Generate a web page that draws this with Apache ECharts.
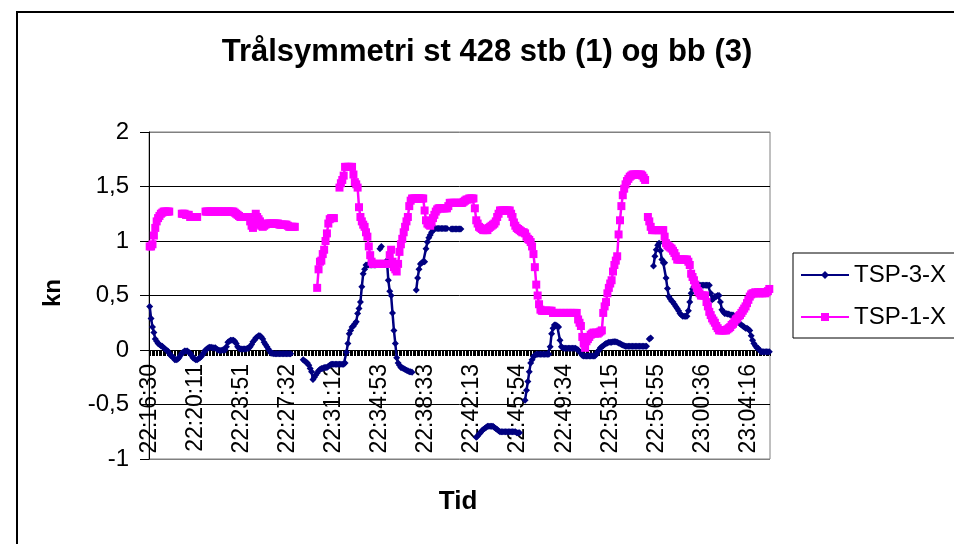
<!DOCTYPE html>
<html>
<head>
<meta charset="utf-8">
<script src="https://cdn.jsdelivr.net/npm/echarts@6/dist/echarts.min.js"></script>
<style>html,body{margin:0;padding:0;background:#fff;}#c{width:954px;height:544px;}</style>
</head>
<body>
<div id="c"></div>
<script>
// Tick labels shown every 33 samples
const tickLabels = ['22:16:30','22:20:11','22:23:51','22:27:32','22:31:12','22:34:53','22:38:33','22:42:13','22:45:54','22:49:34','22:53:15','22:56:55','23:00:36','23:04:16'];
const labelEvery = 33;
const yTicks = [-1, -0.5, 0, 0.5, 1, 1.5, 2];
const seriesNames = ['TSP-3-X', 'TSP-1-X'];

const tsp3 = [
0.40,0.29,0.21,0.16,0.10,0.08,0.06,0.05,0.04,0.035,
0.02,0.01,0.00,-0.01,-0.03,-0.05,-0.06,-0.07,-0.09,-0.09,
-0.085,-0.07,-0.05,-0.03,-0.02,-0.01,-0.01,-0.01,-0.02,-0.03,
-0.05,-0.07,-0.08,-0.09,-0.09,-0.08,-0.07,-0.06,-0.04,-0.02,
0.00,0.01,0.02,0.025,0.025,0.02,0.02,0.02,0.01,0.00,
-0.005,-0.005,0.00,0.00,0.00,0.03,0.07,0.08,0.09,0.09,
0.09,0.08,0.06,0.03,0.015,0.01,0.01,0.01,0.01,0.01,
0.015,0.015,0.03,0.05,0.075,0.09,0.11,0.12,0.13,0.13,
0.12,0.10,0.07,0.05,0.03,0.01,-0.01,-0.03,-0.03,-0.035,
-0.035,-0.035,-0.035,-0.035,-0.035,-0.035,-0.035,-0.035,-0.035,-0.035,
-0.035,-0.035,null,null,null,null,null,null,null,null,
-0.09,-0.10,-0.11,-0.12,-0.14,-0.17,-0.20,-0.27,-0.25,-0.23,
-0.21,-0.19,-0.18,-0.17,-0.17,-0.16,-0.16,-0.16,-0.15,-0.14,
-0.13,-0.13,-0.13,-0.13,-0.13,-0.13,-0.13,-0.13,-0.13,-0.13,
-0.12,-0.02,0.06,0.15,0.18,0.21,0.22,0.24,0.26,0.335,
0.38,0.44,0.58,0.70,0.74,0.78,0.78,0.78,0.78,0.78,
0.78,0.78,0.78,null,null,0.93,0.95,null,null,null,
0.82,0.64,0.54,0.50,0.34,0.18,0.06,-0.07,-0.12,-0.14,
-0.16,-0.165,-0.17,-0.18,-0.185,-0.19,-0.20,-0.20,-0.205,null,
null,0.55,0.66,0.74,0.79,0.80,0.81,0.81,0.93,0.99,
1.03,1.055,1.08,1.10,1.11,1.115,1.115,1.115,1.115,1.115,
1.115,1.115,1.115,1.115,null,null,1.11,1.11,1.11,1.11,
1.11,1.11,1.11,1.11,null,null,null,null,null,null,
null,null,null,null,-0.80,-0.79,-0.77,-0.76,-0.74,-0.73,
-0.72,-0.71,-0.70,-0.70,-0.70,-0.70,-0.70,-0.71,-0.72,-0.73,
-0.74,-0.75,-0.75,-0.75,-0.75,-0.75,-0.75,-0.75,-0.75,-0.75,
-0.75,-0.75,-0.75,-0.76,-0.76,-0.76,null,null,null,-0.46,
-0.37,-0.29,-0.20,-0.12,-0.09,-0.06,-0.05,-0.04,-0.04,-0.04,
-0.04,-0.04,-0.04,-0.04,-0.04,-0.04,-0.04,0.03,0.15,0.20,
0.23,0.23,0.22,0.21,0.09,0.03,0.02,0.015,0.015,0.015,
0.015,0.015,0.015,0.015,0.015,0.015,0.01,0.00,-0.015,-0.03,
-0.05,-0.055,-0.055,-0.055,-0.055,-0.055,-0.055,-0.055,-0.055,-0.055,
-0.04,-0.015,0.00,0.02,0.03,0.04,0.05,0.06,0.065,0.07,
0.07,0.07,0.075,0.075,0.075,0.07,0.065,0.06,0.05,0.045,
0.04,0.035,0.035,0.035,0.035,0.035,0.035,0.035,0.035,0.035,
0.035,0.035,0.035,0.035,0.035,0.035,0.035,null,0.10,0.11,
null,0.77,0.86,0.92,0.96,0.98,0.91,0.83,0.80,0.80,
0.66,0.565,0.49,0.47,0.45,0.44,0.42,0.40,0.38,0.36,
0.335,0.32,0.31,0.31,0.31,0.31,0.36,0.44,0.52,0.56,
0.58,0.59,0.595,0.595,0.595,0.595,0.595,0.595,0.595,0.595,
0.595,0.595,0.52,0.46,0.47,0.49,0.49,0.50,0.50,0.44,
0.37,0.35,0.335,0.335,0.33,0.33,0.32,0.32,0.32,0.30,
0.28,0.26,0.25,0.24,0.23,0.22,0.21,0.20,0.20,0.19,
0.18,0.13,0.09,0.06,0.04,0.02,0.015,0.00,-0.015,-0.015,
-0.015,-0.015,-0.015,-0.015,-0.015
];

const tsp1 = [
0.95,0.95,0.97,1.05,1.12,1.18,1.21,1.23,1.25,1.26,
1.27,1.27,1.27,1.27,1.27,null,null,null,null,null,
null,null,null,1.25,1.25,1.25,1.24,1.24,1.24,1.22,
1.22,1.22,1.22,1.22,1.22,null,null,null,null,null,
1.27,1.27,1.27,1.27,1.27,1.27,1.27,1.27,1.27,1.27,
1.27,1.27,1.27,1.27,1.27,1.27,1.27,1.27,1.27,1.27,
1.27,1.26,1.25,1.24,1.23,1.22,1.22,1.22,1.22,1.22,
1.22,1.22,1.18,1.14,1.12,1.15,1.25,1.22,1.20,1.18,
1.14,1.13,1.14,1.15,1.16,1.16,1.16,1.16,1.16,1.16,
1.16,1.16,1.16,1.15,1.15,1.15,1.15,1.15,1.15,1.14,
1.13,1.13,1.13,1.13,1.13,null,null,null,null,null,
null,null,null,null,null,null,null,null,null,null,
0.57,0.74,0.81,0.82,0.88,0.92,1.00,1.07,1.16,1.20,
1.21,1.21,1.21,null,null,null,1.49,1.53,1.56,1.60,
1.68,1.68,1.68,1.68,1.68,1.68,1.61,1.54,1.52,1.49,
1.31,1.22,1.18,1.15,1.13,1.08,1.04,0.95,0.87,0.81,
0.79,0.79,0.79,0.79,0.79,0.79,0.79,0.79,0.79,0.79,
0.79,0.79,0.87,0.92,0.81,0.76,0.74,0.72,0.79,0.90,
0.97,1.02,1.08,1.13,1.18,1.22,1.32,1.37,1.39,1.39,
1.39,1.39,1.39,1.39,1.39,1.39,1.39,1.28,1.19,1.16,
1.15,1.14,1.17,1.21,1.24,1.27,1.29,1.30,1.30,1.30,
1.30,1.30,1.30,1.30,1.32,1.35,1.35,1.35,1.35,1.35,
1.35,1.35,1.35,1.35,1.35,1.36,1.37,1.38,1.38,1.39,
1.39,1.39,1.39,1.30,1.19,1.16,1.13,1.12,1.11,1.10,
1.10,1.10,1.10,1.12,1.13,1.14,1.15,1.16,1.18,1.22,
1.25,1.28,1.28,1.28,1.28,1.28,1.28,1.28,1.28,1.25,
1.22,1.17,1.14,1.12,1.11,1.10,1.09,1.08,1.08,1.07,
1.04,1.02,1.01,0.99,0.95,0.88,0.76,0.60,0.50,0.42,
0.37,0.36,0.36,0.36,0.36,0.36,0.36,0.36,0.36,0.34,
0.34,0.34,0.34,0.34,0.34,0.34,0.34,0.34,0.34,0.34,
0.34,0.34,0.34,0.34,0.34,0.34,0.34,0.28,0.25,0.22,
0.12,0.06,0.02,0.08,0.10,0.12,0.14,0.15,0.16,0.15,
0.16,0.15,0.16,0.17,0.18,0.34,0.40,0.44,0.52,0.57,
0.61,0.64,0.72,0.78,0.82,0.86,1.06,1.19,1.32,1.42,
1.48,1.52,1.55,1.57,1.59,1.60,1.61,1.61,1.61,1.61,
1.61,1.61,1.61,1.60,1.58,1.56,null,1.22,1.18,1.13,
1.10,1.10,1.10,1.10,1.10,1.10,1.10,1.10,1.10,1.04,
0.98,0.96,0.95,0.94,0.93,0.91,0.89,0.86,0.83,0.83,
0.83,0.83,0.83,0.83,0.83,0.83,0.81,0.78,0.70,0.67,
0.64,0.60,0.57,0.54,0.52,0.50,0.50,0.50,0.50,0.44,
0.40,0.35,0.32,0.29,0.27,0.25,0.22,0.20,0.18,0.18,
0.18,0.18,0.18,0.18,0.19,0.20,0.21,0.23,0.24,0.26,
0.28,0.29,0.31,0.32,0.34,0.36,0.38,0.40,0.43,0.46,
0.49,0.51,0.52,0.52,0.53,0.52,0.53,0.52,0.53,0.52,
0.53,0.52,0.53,0.54,0.56
];

const categories = tsp3.map((_, i) => (i % labelEvery === 0 && tickLabels[i / labelEvery]) ? tickLabels[i / labelEvery] : '');

const FONT = "'Liberation Sans', Arial, Helvetica, sans-serif";
const GRID = {left: 149, right: 184, top: 132, bottom: 85};
const plotH = 544 - GRID.top - GRID.bottom;
// offset the category axis so it sits on the zero line (value axis spans -1..2)
const zeroOffset = -plotH * (0 - yTicks[0]) / (yTicks[yTicks.length - 1] - yTicks[0]);

const chart = echarts.init(document.getElementById('c'), null, {renderer: 'canvas'});
chart.setOption({
  animation: false,
  backgroundColor: '#fff',
  textStyle: {fontFamily: FONT, color: '#000'},
  grid: Object.assign({show: true, borderColor: '#808080', borderWidth: 1, backgroundColor: 'transparent', containLabel: false, outerBoundsMode: 'none'}, GRID),
  legend: {
    orient: 'vertical', left: 793, top: 253,
    data: seriesNames,
    borderColor: '#000', borderWidth: 1,
    padding: [10, 30, 9, 7],
    itemWidth: 48, itemHeight: 10, itemGap: 18,
    textStyle: {fontSize: 24, color: '#000', fontFamily: FONT}
  },
  graphic: [
    {type: 'rect', shape: {x: 17, y: 12, width: 1000, height: 600}, style: {fill: 'none', stroke: '#000', lineWidth: 2}, silent: true},
    {type: 'text', x: 487, y: 52, style: {text: 'Trålsymmetri st 428 stb (1) og bb (3)', font: 'bold 31px ' + FONT, fill: '#000', textAlign: 'center', textVerticalAlign: 'middle'}},
    {type: 'text', x: 458, y: 502, style: {text: 'Tid', font: 'bold 26px ' + FONT, fill: '#000', textAlign: 'center', textVerticalAlign: 'middle'}},
    {type: 'text', x: 53, y: 293, rotation: Math.PI / 2, style: {text: 'kn', font: 'bold 24px ' + FONT, fill: '#000', textAlign: 'center', textVerticalAlign: 'middle'}}
  ],
  xAxis: {
    type: 'category', data: categories, boundaryGap: true, position: 'bottom', offset: zeroOffset,
    axisLine: {onZero: false, lineStyle: {color: '#000', width: 1}},
    axisTick: {show: true, interval: 0, length: 6, lineStyle: {color: '#000', width: 1}},
    axisLabel: {interval: labelEvery - 1, rotate: 90, fontSize: 23, color: '#000', margin: 14, fontFamily: FONT},
    splitLine: {show: false}
  },
  yAxis: {
    type: 'value', min: yTicks[0], max: yTicks[yTicks.length - 1], interval: 0.5,
    axisLine: {show: true, lineStyle: {color: '#000', width: 1}},
    axisTick: {show: true, length: 9, lineStyle: {color: '#000'}},
    axisLabel: {fontSize: 24, color: '#000', margin: 20, fontFamily: FONT, formatter: v => String(v).replace('.', ',')},
    splitLine: {show: true, lineStyle: {color: ['#808080', '#000', '#000', '#000', '#000', '#000', '#808080'], width: 1}}
  },
  series: [
    {name: seriesNames[0], type: 'line', data: tsp3, connectNulls: false, showAllSymbol: true,
     symbol: 'diamond', symbolSize: 7, color: '#000080',
     lineStyle: {color: '#000080', width: 2.5}, itemStyle: {color: '#000080'}},
    {name: seriesNames[1], type: 'line', data: tsp1, connectNulls: false, showAllSymbol: true,
     symbol: 'rect', symbolSize: 8, color: '#FF00FF',
     lineStyle: {color: '#FF00FF', width: 2.5}, itemStyle: {color: '#FF00FF'}}
  ]
});
</script>
</body>
</html>
